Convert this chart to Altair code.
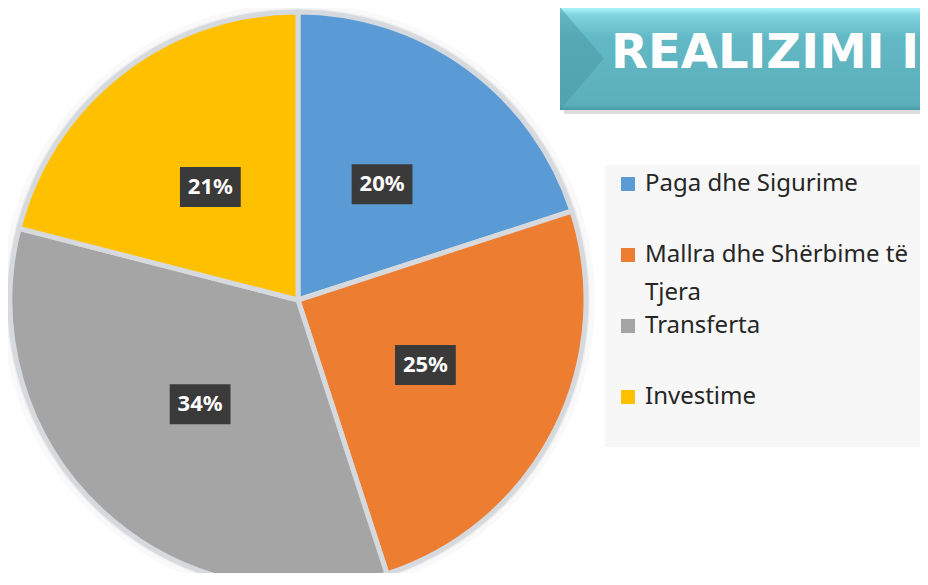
import altair as alt
import pandas as pd

# ---- data ----
categories = ["Paga dhe Sigurime", "Mallra dhe Shërbime të Tjera", "Transferta", "Investime"]
shares = [20, 25, 34, 21]
colors = ["#5b9bd5", "#ed7d31", "#a5a5a5", "#ffc000"]
title_text = "REALIZIMI I"

# the one long legend label wraps onto a second line
wrap_head, wrap_tail = categories[1].rsplit(" ", 1)

df = pd.DataFrame({"category": categories, "share": shares, "idx": list(range(len(categories)))})
one = pd.DataFrame({"k": [0]})

# ---- layout constants ----
CX, CY, R = 290, 292, 288
LR = 143
BOX = "M-1.52,-1L1.52,-1L1.52,1L-1.52,1Z"
LEG_FONT = "Noto Sans"
LEG_SIZE = 24

color_scale = alt.Scale(domain=categories, range=colors)

halo1 = alt.Chart(one).mark_arc(radius=R + 9, color="#000000", opacity=0.025).encode(
    theta=alt.value(6.2832), x=alt.value(CX), y=alt.value(CY))
halo2 = alt.Chart(one).mark_arc(radius=R + 4, color="#000000", opacity=0.04).encode(
    theta=alt.value(6.2832), x=alt.value(CX), y=alt.value(CY))

pie = alt.Chart(df).mark_arc(radius=R, stroke="#d6dadf", strokeWidth=5).encode(
    theta=alt.Theta("share:Q", stack=True),
    color=alt.Color(
        "category:N", scale=color_scale, sort=categories,
        legend=alt.Legend(
            title=None, orient="none", legendX=608, legendY=164,
            symbolType="square", symbolSize=196, symbolStrokeWidth=0,
            labelFontSize=LEG_SIZE, labelFont=LEG_FONT, labelColor="#262626",
            labelOffset=5, rowPadding=47, labelLimit=400,
            labelExpr=f"replace(datum.label, ' {wrap_tail}', '')",
        ),
    ),
    order=alt.Order("idx:Q"),
    x=alt.value(CX), y=alt.value(CY),
)

tail = alt.Chart(one).mark_text(
    text=wrap_tail, align="left", baseline="middle", fontSize=LEG_SIZE,
    font=LEG_FONT, color="#262626"
).encode(x=alt.value(637), y=alt.value(285))

lab = alt.Chart(df).transform_window(
    cum="sum(share)", sort=[alt.SortField("idx")], frame=[None, 0]
).transform_joinaggregate(total="sum(share)").transform_calculate(
    mid="(datum.cum - datum.share/2)/datum.total*2*PI"
).transform_calculate(
    px=f"{CX} + {LR}*sin(datum.mid)",
    py=f"{CY} - {LR}*cos(datum.mid)",
    label="datum.share + '%'",
)

boxes = lab.mark_point(shape=BOX, size=1600, filled=True, opacity=1, color="#3a3a3a").encode(
    x=alt.X("px:Q", scale=None, axis=None), y=alt.Y("py:Q", scale=None, axis=None))
texts = lab.mark_text(color="white", fontSize=22, fontWeight="bold", font="Noto Sans").encode(
    x=alt.X("px:Q", scale=None, axis=None), y=alt.Y("py:Q", scale=None, axis=None), text="label:N")

# title banner
grad = alt.LinearGradient(
    gradient="linear", x1=0, x2=0, y1=0, y2=1,
    stops=[alt.GradientStop(color="#b0f8ff", offset=0),
           alt.GradientStop(color="#7fd3de", offset=0.08),
           alt.GradientStop(color="#62b8c4", offset=0.3),
           alt.GradientStop(color="#5aafbb", offset=0.95),
           alt.GradientStop(color="#4a9aa5", offset=1)])
title_shadow = alt.Chart(one).mark_rect(color="#9a9a9a", opacity=0.35).encode(
    x=alt.value(556), x2=alt.value(930), y=alt.value(6), y2=alt.value(106))
title_rect = alt.Chart(one).mark_rect(color=grad).encode(
    x=alt.value(552), x2=alt.value(930), y=alt.value(-1), y2=alt.value(102))
title_tri = alt.Chart(one).mark_point(
    shape="M-1,-1L-0.15,0L-1,1Z", size=10609, filled=True, opacity=0.5, color="#4a98a3"
).encode(x=alt.value(603.5), y=alt.value(50.5))
title = alt.Chart(one).mark_text(
    text=title_text, align="left", baseline="alphabetic", fontSize=48,
    fontWeight="bold", font="DejaVu Sans", color="white"
).encode(x=alt.value(603), y=alt.value(60))

legend_bg = alt.Chart(one).mark_rect(color="#f7f7f7").encode(
    x=alt.value(597), x2=alt.value(930), y=alt.value(157), y2=alt.value(439))

chart = alt.layer(
    halo1, halo2, title_shadow, title_rect, title_tri, title, legend_bg, pie, boxes, texts, tail
).properties(
    width=912, height=565, autosize="none", padding=0
).configure_view(strokeWidth=0)

chart.save("out.html", embed_options={"renderer": "svg", "actions": False})
